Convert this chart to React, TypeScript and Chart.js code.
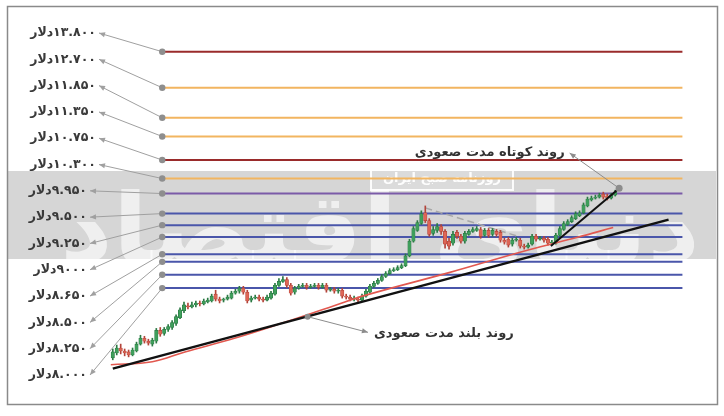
import React, { useEffect, useRef } from "react";
import { Chart, registerables } from "chart.js";
Chart.register(...registerables);

// ---- horizontal price levels ----
const levelValues = [13800, 12700, 11850, 11350, 10750, 10300, 9950, 9500, 9250, 9000, 8650, 8500, 8250, 8000];
const levelLabels = [
  "۱۳.۸۰۰دلار", "۱۲.۷۰۰دلار", "۱۱.۸۵۰دلار", "۱۱.۳۵۰دلار", "۱۰.۷۵۰دلار", "۱۰.۳۰۰دلار", "۹.۹۵۰دلار",
  "۹.۵۰۰دلار", "۹.۲۵۰دلار", "۹۰۰۰دلار", "۸.۶۵۰دلار", "۸.۵۰۰دلار", "۸.۲۵۰دلار", "۸.۰۰۰دلار",
];
const levelColors = [
  "#9a2b2b", "#f2b560", "#f2b560", "#f2b560", "#9a2b2b", "#f2b560", "#7b5ba8",
  "#4a56aa", "#4a56aa", "#4a56aa", "#4a56aa", "#4a56aa", "#4a56aa", "#4a56aa",
];
const levelStartX = 12.5;
const levelEndX = 144;

// ---- candles (index 0..127) ----
const opens = [6812,6889,6968,6920,6905,6858,6920,7031,7127,7079,7031,7079,7257,7208,7273,7306,7373,7473,7593,7678,7661,7696,7731,7713,7748,7766,7889,7801,7783,7801,7818,7907,7943,7997,7925,7783,7818,7836,7801,7783,7818,7889,8052,8125,8161,8052,7925,7997,8033,8052,8015,8033,8052,8015,8052,7961,7979,7943,7961,7854,7836,7801,7801,7783,7854,7925,8033,8088,8143,8217,8273,8330,8348,8386,8425,8618,8914,9139,9285,9518,9348,9077,9139,9222,9118,8914,8874,9098,9015,8914,9056,9118,9139,9159,9036,9139,9056,9118,9098,8934,8954,8854,8934,8934,8814,8794,8854,9015,8954,8974,8954,8874,8874,9036,9159,9264,9327,9390,9454,9518,9670,9802,9847,9869,9937,9892,9847,9914];
const closes = [6905,6968,6920,6889,6858,6936,7031,7127,7079,7047,7095,7257,7192,7273,7323,7390,7490,7610,7696,7661,7696,7731,7713,7766,7783,7854,7801,7766,7801,7836,7907,7943,7997,7925,7766,7818,7836,7801,7783,7836,7907,8052,8125,8161,8052,7907,7997,8033,8052,8015,8033,8052,8015,8052,7961,7979,7943,7961,7854,7836,7801,7818,7783,7854,7943,8033,8088,8143,8217,8273,8330,8348,8386,8425,8618,8914,9180,9306,9497,9348,9056,9159,9222,9118,8854,8814,9056,9015,8914,9077,9118,9159,9180,9015,9139,9036,9139,9056,8934,8894,8834,8934,8954,8814,8794,8834,9015,8954,8974,8934,8874,8894,9036,9180,9285,9327,9412,9497,9518,9692,9824,9847,9869,9914,9869,9847,9914,9982];
const highs = [6952,7015,7031,6952,6936,6968,7063,7176,7159,7111,7127,7290,7306,7306,7356,7423,7524,7644,7748,7731,7748,7766,7766,7801,7818,7889,7961,7836,7818,7872,7943,7979,8033,8033,7961,7854,7872,7872,7836,7872,7943,8088,8180,8217,8198,8088,8033,8070,8088,8088,8070,8088,8088,8088,8088,8015,8015,7997,7997,7889,7872,7854,7836,7889,7979,8070,8125,8180,8255,8311,8367,8386,8425,8463,8657,8954,9222,9348,9561,9670,9390,9222,9285,9264,9159,8974,9118,9139,9056,9118,9159,9201,9222,9201,9180,9180,9180,9159,9139,8974,8995,8974,8995,8974,8854,8874,9056,9056,9015,9015,8995,8934,9077,9222,9327,9369,9454,9540,9561,9736,9869,9892,9914,9959,9982,9937,9959,10027];
const lows = [6781,6858,6874,6843,6827,6843,6905,7015,7047,7015,6999,7047,7159,7176,7240,7273,7340,7456,7559,7627,7644,7661,7678,7696,7731,7748,7766,7731,7748,7783,7801,7889,7907,7889,7731,7748,7801,7766,7748,7766,7801,7872,8033,8106,8015,7872,7889,7979,8015,7979,7997,8015,7979,7997,7925,7943,7907,7907,7818,7801,7766,7766,7748,7766,7836,7907,8015,8070,8125,8198,8255,8311,8330,8367,8406,8598,8894,9118,9264,9306,9015,9036,9098,9056,8774,8754,8834,8974,8874,8874,9036,9098,9118,8974,9015,8995,9015,9015,8894,8854,8794,8814,8914,8774,8754,8774,8834,8914,8934,8894,8834,8854,8854,9015,9139,9243,9306,9369,9433,9497,9648,9780,9824,9847,9824,9802,9824,9892];

// ---- trend lines ----
const longTrendX = [0, 140.5];
const longTrendY = [6645, 9369];
const maX = [-0.5, 10, 18.25, 30.75, 43.25, 55.75, 64, 85, 105, 117.5, 126.5];
const maY = [6705, 6752, 6905, 7127, 7390, 7678, 7872, 8291, 8735, 8995, 9201];
const shortTrendX = [110.75, 127.75];
const shortTrendY = [8814, 10049];
const dashX = [79, 102.5];
const dashY = [9626, 9015];

// ---- annotations ----
const shortNote = "روند کوتاه مدت صعودی";
const shortNoteAnchor = { x: 128, y: 10072 };
const shortNoteTip = { x: 115.5, y: 10923 };
const longNote = "روند بلند مدت صعودی";
const longNoteAnchor = { x: 49.25, y: 7490 };
const longNoteTip = { x: 64.5, y: 7224 };
const paperName = "روزنامه صبح ایران";
const brandName = "دنیای اقتصاد";

const GREEN = "#3f9f5c";
const GREEN_EDGE = "#2c7a44";
const RED = "#de6656";
const RED_EDGE = "#b3443a";

function arrow(ctx: CanvasRenderingContext2D, x1: number, y1: number, x2: number, y2: number, color: string) {
  ctx.strokeStyle = color;
  ctx.fillStyle = color;
  ctx.lineWidth = 1;
  ctx.beginPath();
  ctx.moveTo(x1, y1);
  ctx.lineTo(x2, y2);
  ctx.stroke();
  const a = Math.atan2(y2 - y1, x2 - x1);
  const L = 6, W = 2.6;
  ctx.beginPath();
  ctx.moveTo(x2, y2);
  ctx.lineTo(x2 - L * Math.cos(a) + W * Math.sin(a), y2 - L * Math.sin(a) - W * Math.cos(a));
  ctx.lineTo(x2 - L * Math.cos(a) - W * Math.sin(a), y2 - L * Math.sin(a) + W * Math.cos(a));
  ctx.closePath();
  ctx.fill();
}

const decor = {
  id: "decor",
  beforeDraw(chart: any) {
    const { ctx, width, height } = chart;
    ctx.save();
    ctx.fillStyle = "#ffffff";
    ctx.fillRect(0, 0, width, height);
    // grey band of the newspaper layout
    ctx.fillStyle = "#d6d6d6";
    ctx.fillRect(8, 171, 708, 88);
    // watermark logo text
    ctx.font = 'bold 96px "DejaVu Sans"';
    ctx.direction = "rtl";
    ctx.textAlign = "center";
    ctx.textBaseline = "alphabetic";
    const w = ctx.measureText(brandName).width;
    ctx.translate(380, 262);
    ctx.scale(640 / w, 1);
    ctx.fillStyle = "rgba(255,255,255,0.62)";
    ctx.fillText(brandName, 0, 0);
    ctx.restore();

    // small paper-name box
    ctx.save();
    ctx.strokeStyle = "rgba(255,255,255,0.9)";
    ctx.lineWidth = 2;
    ctx.fillStyle = "rgba(255,255,255,0.12)";
    ctx.fillRect(371, 167, 142, 23);
    ctx.strokeRect(371, 167, 142, 23);
    ctx.font = 'bold 13px "DejaVu Sans"';
    ctx.direction = "rtl";
    ctx.textAlign = "center";
    ctx.textBaseline = "middle";
    ctx.fillStyle = "rgba(255,255,255,0.95)";
    ctx.fillText(paperName, 442, 179);
    ctx.restore();
  },
  beforeDatasetsDraw(chart: any) {
    const { ctx } = chart;
    const xs = chart.scales.x, ys = chart.scales.y;
    ctx.save();
    const step = 342 / 13;
    levelValues.forEach((v, i) => {
      const ly = 33 + i * step;
      const rx = i < 6 ? 96 : 87;
      const px = xs.getPixelForValue(levelStartX);
      const py = ys.getPixelForValue(v);
      arrow(ctx, px, py, rx + 3, ly, "#a0a0a0");
    });
    ctx.restore();
  },
  afterDatasetsDraw(chart: any) {
    const { ctx } = chart;
    const xs = chart.scales.x, ys = chart.scales.y;
    ctx.save();
    // level labels
    ctx.font = 'bold 12.5px "DejaVu Sans"';
    ctx.fillStyle = "#3a3a3a";
    ctx.direction = "rtl";
    ctx.textAlign = "right";
    ctx.textBaseline = "middle";
    const step = 342 / 13;
    levelLabels.forEach((t, i) => {
      const ly = 33 + i * step;
      const rx = i < 6 ? 96 : 87;
      ctx.fillText(t, rx, ly);
    });

    // short-term note
    const sax = xs.getPixelForValue(shortNoteAnchor.x), say = ys.getPixelForValue(shortNoteAnchor.y);
    const stx = xs.getPixelForValue(shortNoteTip.x), sty = ys.getPixelForValue(shortNoteTip.y);
    arrow(ctx, sax, say, stx, sty, "#8c8c8c");
    ctx.fillStyle = "#8c8c8c";
    ctx.beginPath();
    ctx.arc(sax, say, 3.5, 0, Math.PI * 2);
    ctx.fill();
    ctx.font = 'bold 13px "DejaVu Sans"';
    ctx.fillStyle = "#333333";
    ctx.textAlign = "right";
    ctx.fillText(shortNote, stx - 5, sty);

    // long-term note
    const lax = xs.getPixelForValue(longNoteAnchor.x), lay = ys.getPixelForValue(longNoteAnchor.y);
    const ltx = xs.getPixelForValue(longNoteTip.x), lty = ys.getPixelForValue(longNoteTip.y);
    arrow(ctx, lax, lay, ltx, lty, "#8c8c8c");
    ctx.fillStyle = "#8c8c8c";
    ctx.beginPath();
    ctx.arc(lax, lay, 3, 0, Math.PI * 2);
    ctx.fill();
    ctx.fillStyle = "#333333";
    ctx.textAlign = "left";
    ctx.fillText(longNote, ltx + 6, lty + 1);

    // frame
    ctx.strokeStyle = "#8a8a8a";
    ctx.lineWidth = 1.5;
    ctx.strokeRect(7.5, 6.5, 710, 398);
    ctx.restore();
  },
};

export default function App() {
  const ref = useRef<HTMLCanvasElement>(null);
  useEffect(() => {
    const canvas = ref.current!;
    const up = opens.map((o, i) => closes[i] >= o);
    const levelSets = levelValues.map((v, i) => ({
      type: "line" as const,
      data: [{ x: levelStartX, y: v }, { x: levelEndX, y: v }],
      borderColor: levelColors[i],
      borderWidth: 2,
      pointRadius: [3.2, 0],
      pointBackgroundColor: "#8e8e8e",
      pointBorderWidth: 0,
      order: 5,
    }));
    const chart = new Chart(canvas, {
      type: "bar",
      data: {
        datasets: [
          {
            type: "line",
            data: longTrendX.map((x, i) => ({ x, y: longTrendY[i] })),
            borderColor: "#111111",
            borderWidth: 2.5,
            pointRadius: 0,
            order: 0,
          },
          {
            type: "line",
            data: shortTrendX.map((x, i) => ({ x, y: shortTrendY[i] })),
            borderColor: "#111111",
            borderWidth: 2,
            pointRadius: 0,
            order: 0,
          },
          {
            type: "line",
            data: maX.map((x, i) => ({ x, y: maY[i] })),
            borderColor: "#e2584f",
            borderWidth: 1.6,
            pointRadius: 0,
            tension: 0.4,
            order: 0,
          },
          {
            type: "line",
            data: dashX.map((x, i) => ({ x, y: dashY[i] })),
            borderColor: "#a8a8a8",
            borderWidth: 1.5,
            borderDash: [7, 4],
            pointRadius: 0,
            order: 4,
          },
          {
            type: "bar",
            data: opens.map((o, i) => ({ x: i, y: [o, closes[i]] })),
            backgroundColor: up.map((u) => (u ? GREEN : RED)),
            borderColor: up.map((u) => (u ? GREEN_EDGE : RED_EDGE)),
            borderWidth: 0.6,
            borderSkipped: false,
            barThickness: 3.4,
            grouped: false,
            order: 1,
          },
          {
            type: "bar",
            data: lows.map((l, i) => ({ x: i, y: [l, highs[i]] })),
            backgroundColor: up.map((u) => (u ? GREEN_EDGE : RED_EDGE)),
            barThickness: 1,
            grouped: false,
            order: 2,
          },
          ...levelSets,
        ] as any,
      },
      options: {
        animation: false,
        responsive: false,
        maintainAspectRatio: false,
        layout: { padding: 0 },
        plugins: { legend: { display: false }, tooltip: { enabled: false } },
        scales: {
          x: { type: "linear", min: -27.5, max: 153.5, offset: false, display: false },
          y: { type: "logarithmic", min: 6012, max: 15405, display: false },
        },
      } as any,
      plugins: [decor],
    });
    return () => chart.destroy();
  }, []);
  return (
    <div style={{ position: "absolute", left: 0, top: 0, width: 724, height: 416, background: "#fff" }}>
      <canvas ref={ref} width={724} height={416} style={{ display: "block", width: 724, height: 416 }} />
    </div>
  );
}
